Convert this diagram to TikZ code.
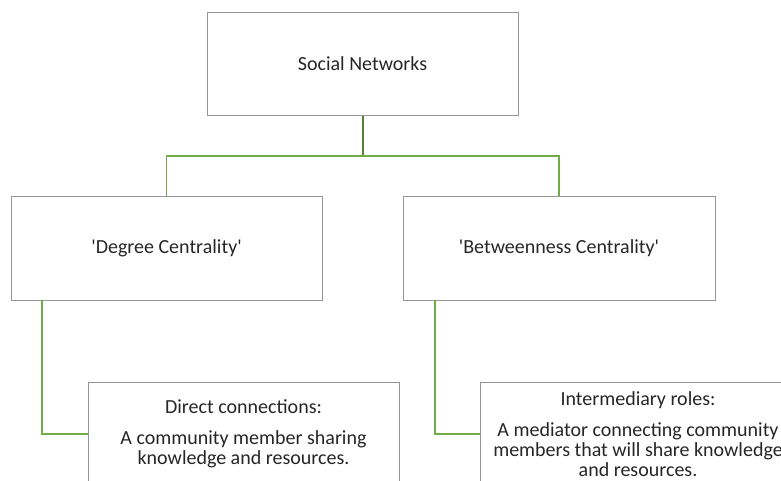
\documentclass[tikz,border=0pt]{standalone}
\usepackage{fontspec}
\setmainfont{Carlito}
\usetikzlibrary{positioning}
\definecolor{edge}{RGB}{150,150,150}
\definecolor{link}{RGB}{112,173,71}
\definecolor{linkdark}{RGB}{84,130,53}
\definecolor{ink}{RGB}{38,38,38}
\tikzstyle{plain} = [
rectangle,
minimum width=311pt,
minimum height=104pt,
line width=0.9pt,
text centered,
align=center,
text=ink,
font=\fontsize{20}{20}\selectfont,
draw=edge
]
\tikzstyle{branch} = [draw=link, line width=1.3pt]
\begin{document}
\begin{tikzpicture}[x=1pt, y=-1pt]
      \useasboundingbox (0,0) rectangle (781,480);
      \node (root) [plain, minimum height=103pt] at (362.5,64) {Social Networks};
      \node (degree) [plain] at (166.5,248) {\textquotesingle Degree Centrality\textquotesingle};
      \node (between) [plain, minimum width=312pt] at (559,248) {\textquotesingle Betweenness Centrality\textquotesingle};
      \node (direct) [plain] at (243.5,434) {Direct connections:\\[11pt]A community member sharing\\knowledge and resources.};
      \node (inter) [plain, minimum width=316pt] at (638,434) {Intermediary roles:\\[11pt]A mediator connecting community\\members that will share knowledge\\and resources.};
      \coordinate (fork) at (root.south |- 0,156);
      \draw [draw=linkdark, line width=2pt] (root) -- (fork);
      \draw [branch] (fork) -| (degree.north);
      \draw [branch] (fork) -| (between.north);
      \draw [branch] (degree.south -| 42,0) |- (direct.west);
      \draw [branch] (between.south -| 435,0) |- (inter.west);
\end{tikzpicture}
\end{document}
